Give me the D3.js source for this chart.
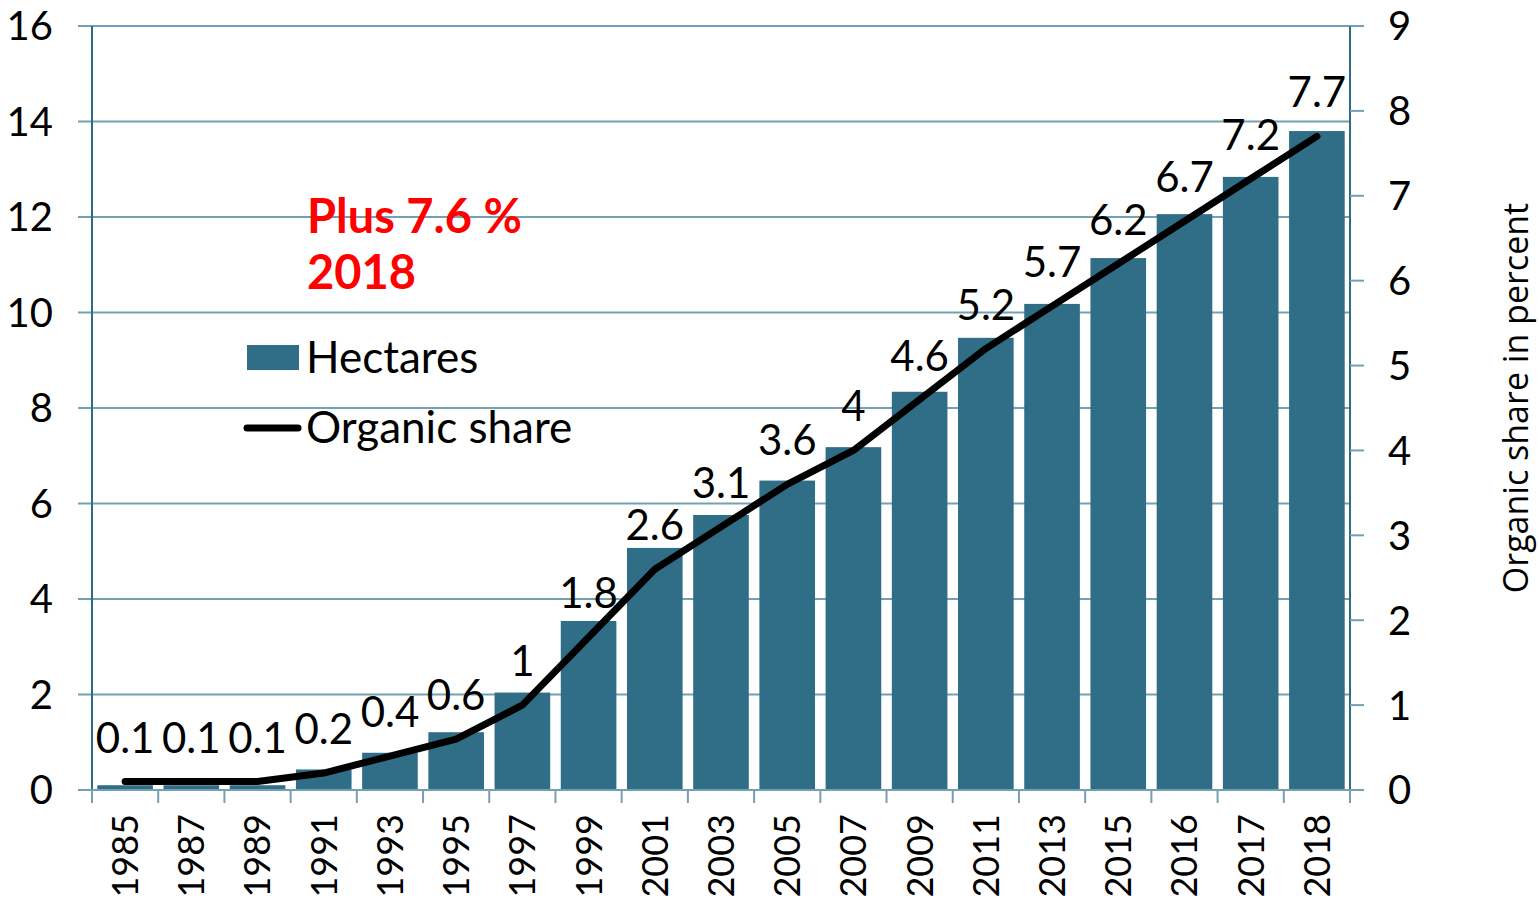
<!DOCTYPE html>
<html>
<head>
<meta charset="utf-8">
<script src="https://cdn.jsdelivr.net/npm/d3@7"></script>
<style>
  body { margin: 0; background: #fff; }
  text { font-family: Lato, "Open Sans", sans-serif; fill: #000; }
</style>
</head>
<body>
<script>
// data
var years = ["1985","1987","1989","1991","1993","1995","1997","1999","2001","2003",
             "2005","2007","2009","2011","2013","2015","2016","2017","2018"];
var hectares = [0.1, 0.1, 0.1, 0.43, 0.78, 1.21, 2.04, 3.54, 5.07, 5.76,
                6.48, 7.18, 8.34, 9.47, 10.18, 11.14, 12.06, 12.84, 13.8];
var share = [0.1, 0.1, 0.1, 0.2, 0.4, 0.6, 1, 1.8, 2.6, 3.1,
             3.6, 4, 4.6, 5.2, 5.7, 6.2, 6.7, 7.2, 7.7];
var leftTicks = [0, 2, 4, 6, 8, 10, 12, 14, 16];
var rightTicks = [0, 1, 2, 3, 4, 5, 6, 7, 8, 9];

function main(){
    var width = 1539, height = 902;
    var pLeft = 92, pRight = 1350, pTop = 26, pBottom = 790;
    var barColor = "#306d87", gridColor = "#74a0b4", axisColor = "#2e6b85";

    var svg = d3.select("body").append("svg")
        .attr("width", width)
        .attr("height", height);

    var x = d3.scaleBand().domain(years).range([pLeft, pRight]).paddingInner(0.16).paddingOuter(0.08);
    var xb = d3.scaleBand().domain(years).range([pLeft, pRight]); // band edges for ticks
    var y = d3.scaleLinear().domain([0, 16]).range([pBottom, pTop]);
    var y2 = d3.scaleLinear().domain([0, 9]).range([pBottom, pTop]);

    // gridlines + left ticks
    svg.append("g").selectAll("line")
        .data(leftTicks)
        .enter().append("line")
        .attr("x1", pLeft - 14).attr("x2", pRight)
        .attr("y1", function(d){ return y(d); })
        .attr("y2", function(d){ return y(d); })
        .attr("stroke", gridColor)
        .attr("stroke-width", 2);

    // bars
    svg.append("g").selectAll("rect")
        .data(hectares)
        .enter().append("rect")
        .attr("x", function(d, i){ return x(years[i]); })
        .attr("width", x.bandwidth())
        .attr("y", function(d){ return y(d); })
        .attr("height", function(d){ return pBottom - y(d); })
        .attr("fill", barColor);

    // axis lines
    svg.append("line").attr("x1", pLeft).attr("x2", pLeft).attr("y1", pTop).attr("y2", pBottom)
        .attr("stroke", axisColor).attr("stroke-width", 2);
    svg.append("line").attr("x1", pRight).attr("x2", pRight).attr("y1", pTop).attr("y2", pBottom)
        .attr("stroke", axisColor).attr("stroke-width", 2);
    svg.append("line").attr("x1", pLeft - 14).attr("x2", pRight + 14).attr("y1", pBottom).attr("y2", pBottom)
        .attr("stroke", gridColor).attr("stroke-width", 2);

    // bottom ticks at band edges
    var edges = years.map(function(d){ return xb(d); }).concat([pRight]);
    svg.append("g").selectAll("line")
        .data(edges)
        .enter().append("line")
        .attr("x1", function(d){ return d; }).attr("x2", function(d){ return d; })
        .attr("y1", pBottom).attr("y2", pBottom + 13)
        .attr("stroke", gridColor).attr("stroke-width", 2);

    // right ticks
    svg.append("g").selectAll("line")
        .data(rightTicks)
        .enter().append("line")
        .attr("x1", pRight).attr("x2", pRight + 14)
        .attr("y1", function(d){ return y2(d); })
        .attr("y2", function(d){ return y2(d); })
        .attr("stroke", gridColor).attr("stroke-width", 2);

    // left tick labels
    svg.append("g").selectAll("text")
        .data(leftTicks)
        .enter().append("text")
        .attr("x", 53)
        .attr("y", function(d){ return y(d); })
        .attr("dy", "0.36em")
        .attr("text-anchor", "end")
        .style("font-size", "40px")
        .text(function(d){ return d; });

    // right tick labels
    svg.append("g").selectAll("text")
        .data(rightTicks)
        .enter().append("text")
        .attr("x", 1388)
        .attr("y", function(d){ return y2(d); })
        .attr("dy", "0.36em")
        .style("font-size", "40px")
        .text(function(d){ return d; });

    // x labels, rotated
    svg.append("g").selectAll("text")
        .data(years)
        .enter().append("text")
        .attr("transform", function(d){
            return "translate(" + (xb(d) + xb.bandwidth() / 2) + "," + 814 + ") rotate(-90)";
        })
        .attr("dy", "0.36em")
        .attr("text-anchor", "end")
        .style("font-size", "36px")
        .text(function(d){ return d; });

    // share line
    var line = d3.line()
        .x(function(d, i){ return xb(years[i]) + xb.bandwidth() / 2; })
        .y(function(d){ return y2(d); });
    svg.append("path")
        .datum(share)
        .attr("d", line)
        .attr("fill", "none")
        .attr("stroke", "#000")
        .attr("stroke-width", 7)
        .attr("stroke-linejoin", "round")
        .attr("stroke-linecap", "round");

    // value labels
    svg.append("g").selectAll("text")
        .data(share)
        .enter().append("text")
        .attr("x", function(d, i){ return xb(years[i]) + xb.bandwidth() / 2; })
        .attr("y", function(d){ return y2(d) - 29; })
        .attr("text-anchor", "middle")
        .style("font-size", "42px")
        .text(function(d){ return d; });

    // right axis title
    svg.append("text")
        .attr("transform", "translate(1528,398) rotate(-90)")
        .attr("text-anchor", "middle")
        .style("font-family", "'Open Sans', sans-serif")
        .style("font-size", "34px")
        .text("Organic share in percent");

    // red note
    var note = svg.append("text")
        .style("font-size", "47px")
        .style("font-weight", "bold")
        .style("fill", "#ff0000");
    note.append("tspan").attr("x", 307).attr("y", 233).text("Plus 7.6 %");
    note.append("tspan").attr("x", 307).attr("y", 289).text("2018");

    // legend
    svg.append("rect").attr("x", 247).attr("y", 345).attr("width", 52).attr("height", 25).attr("fill", barColor);
    svg.append("text").attr("x", 306).attr("y", 373).style("font-size", "44px").text("Hectares");
    svg.append("line").attr("x1", 247).attr("x2", 298).attr("y1", 428).attr("y2", 428)
        .attr("stroke", "#000").attr("stroke-width", 7).attr("stroke-linecap", "round");
    svg.append("text").attr("x", 306).attr("y", 443).style("font-size", "44px").text("Organic share");
}
main();
</script>
</body>
</html>
